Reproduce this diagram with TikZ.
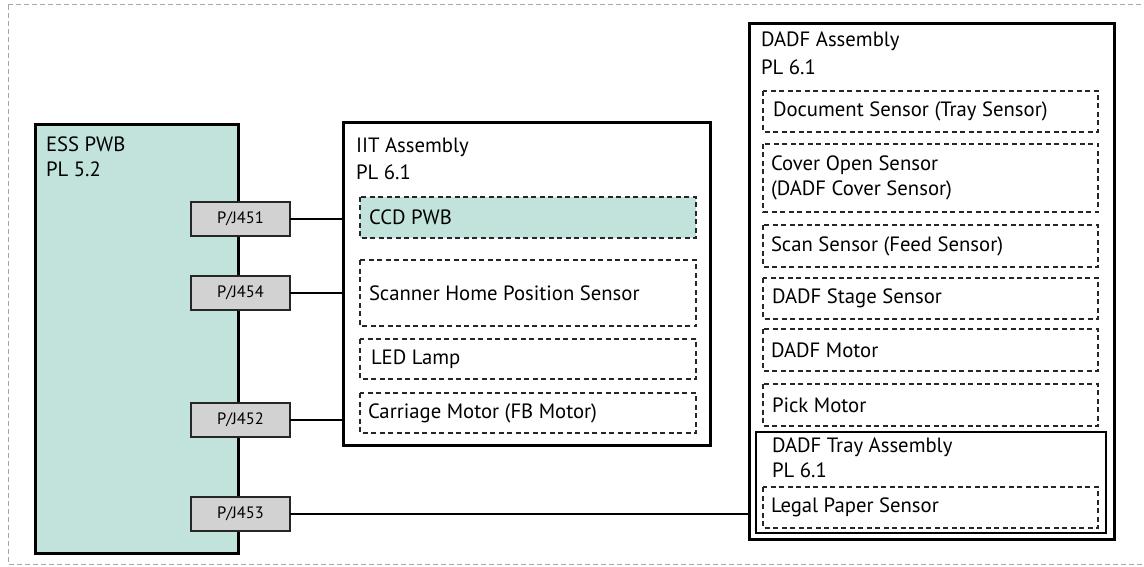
\documentclass[tikz,border=0pt]{standalone}
\usepackage{fontspec}
\setmainfont{PT Sans}
\begin{document}
\begin{tikzpicture}[x=1pt,y=-1pt,
  every node/.style={inner sep=0pt, outer sep=0pt},
  bigbox/.style={draw=black, line width=3pt},
  thinbox/.style={draw=black, line width=1.3pt},
  partbox/.style={draw=black!85, dashed, dash pattern=on 5pt off 3.5pt, line width=1.3pt},
  conn/.style={draw=black!85, fill=pjgray, line width=1.5pt, minimum width=99pt, minimum height=34pt, font=\fontsize{16.5}{16.5}\selectfont},
  wire/.style={draw=black, line width=2.5pt},
  lbl/.style={anchor=base west, font=\fontsize{20.7}{20.7}\selectfont},
  plbl/.style={anchor=west, font=\fontsize{20.7}{25}\selectfont, align=left}
]
\definecolor{teal}{HTML}{C1E3DB}
\definecolor{pjgray}{HTML}{D2D2D2}
\useasboundingbox (0,0) rectangle (1144,567);
\draw[gray!70, dashed, dash pattern=on 5pt off 3pt, line width=1pt] (8,5) -- (1150,5) (8,5) -- (8,564) -- (1150,564);

% ESS PWB
\draw[bigbox, fill=teal] (35,125) rectangle (238,553);
\node[lbl] (ess1) at (46,152) {ESS PWB};
\node[lbl] (ess2) at (46,177) {PL 5.2};
\node[conn] (pj451) at (240.5,219) {P/J451};
\node[conn] (pj454) at (240.5,293) {P/J454};
\node[conn] (pj452) at (240.5,420) {P/J452};
\node[conn] (pj453) at (240.5,514) {P/J453};

% IIT
\node[bigbox, minimum width=367pt, minimum height=322pt, anchor=north west] (iit) at (343,123) {};
\node[lbl] (iit1) at (356,153) {IIT Assembly};
\node[lbl] (iit2) at (356,180) {PL 6.1};
\draw[partbox, fill=teal] (360,197) rectangle (696,238);
\node[plbl] (ccd) at (369,217.5) {CCD PWB};
\draw[partbox] (360,260) rectangle (696,326);
\node[plbl] (shp) at (369,293) {Scanner Home Position Sensor};
\draw[partbox] (360,339) rectangle (696,379);
\node[plbl] (led) at (371,359) {LED Lamp};
\draw[partbox] (360,393) rectangle (696,433);
\node[plbl] (cm) at (368,413) {Carriage Motor (FB Motor)};

% DADF
\node[bigbox, minimum width=365pt, minimum height=515pt, anchor=north west] (dadf) at (749,24) {};
\node[lbl] (d1) at (761,47) {DADF Assembly};
\node[lbl] (d2) at (761,75) {PL 6.1};
\draw[partbox] (763,91) rectangle (1098,132);
\node[plbl] (ds) at (773,111.5) {Document Sensor (Tray Sensor)};
\draw[partbox] (763,144) rectangle (1098,212);
\node[plbl] (cos) at (771,178) {Cover Open Sensor\\(DADF Cover Sensor)};
\draw[partbox] (763,225) rectangle (1098,267);
\node[plbl] (ss) at (771,246) {Scan Sensor (Feed Sensor)};
\draw[partbox] (763,278) rectangle (1098,319);
\node[plbl] (dst) at (772,298.5) {DADF Stage Sensor};
\draw[partbox] (763,329) rectangle (1098,371);
\node[plbl] (dm) at (771,350) {DADF Motor};
\draw[partbox] (763,384) rectangle (1098,426);
\node[plbl] (pm) at (772,405) {Pick Motor};
\draw[thinbox] (756,432) rectangle (1106,533);
\node[lbl] (t1) at (772,452) {DADF Tray Assembly};
\node[lbl] (t2) at (772,477) {PL 6.1};
\draw[partbox] (763,487) rectangle (1098,528);
\node[plbl] (lps) at (771,507.5) {Legal Paper Sensor};

% wires
\draw[wire] (pj451.east) -- (pj451.east -| iit.west);
\draw[wire] (pj454.east) -- (pj454.east -| iit.west);
\draw[wire] (pj452.east) -- (pj452.east -| iit.west);
\draw[wire] (pj453.east) -- (pj453.east -| dadf.west);
\end{tikzpicture}
\end{document}
